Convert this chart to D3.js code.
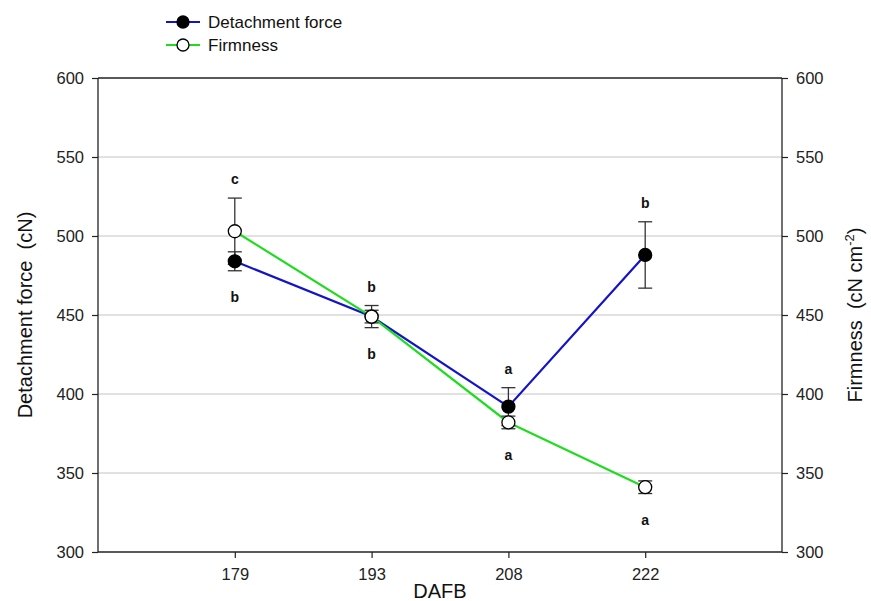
<!DOCTYPE html>
<html>
<head>
<meta charset="utf-8">
<script src="https://cdn.jsdelivr.net/npm/d3@7"></script>
<style>
  body { margin: 0; background: #fff; }
  text { font-family: "Liberation Sans", Arial, sans-serif; }
</style>
</head>
<body>
<script>
// data
const dafb = ['179', '193', '208', '222'];
const detachment = [484, 449, 392, 488];
const detachmentErr = [6, 4, 12, 21];
const detachmentLetters = ['b', 'b', 'a', 'b'];
const firmness = [503, 449, 382, 341];
const firmnessErr = [21, 7, 4, 4];
const firmnessLetters = ['c', 'b', 'a', 'a'];
const yTicks = [300, 350, 400, 450, 500, 550, 600];

const W = 871, H = 601;
const mLeft = 98, mRight = 782, mTop = 78, mBottom = 552;

const svg = d3.select('body').append('svg')
  .attr('width', W).attr('height', H);

const x = d3.scalePoint().domain(dafb).range([mLeft, mRight]).padding(1);
const y = d3.scaleLinear().domain([300, 600]).range([mBottom, mTop]);
const y2 = d3.scaleLinear().domain([300, 600]).range([mBottom, mTop]);

// grid
svg.append('g').selectAll('line')
  .data(yTicks.filter(d => d > 300 && d < 600))
  .join('line')
  .attr('x1', mLeft).attr('x2', mRight)
  .attr('y1', d => y(d)).attr('y2', d => y(d))
  .style('stroke', '#c4c4c4').style('stroke-width', 1);

// frame top
svg.append('line').attr('x1', mLeft).attr('x2', mRight)
  .attr('y1', mTop).attr('y2', mTop)
  .style('stroke', '#222').style('stroke-width', 1.3);

const axL = svg.append('g').attr('transform', `translate(${mLeft},0)`)
  .call(d3.axisLeft(y).tickValues(yTicks).tickSize(6).tickPadding(8));
const axR = svg.append('g').attr('transform', `translate(${mRight},0)`)
  .call(d3.axisRight(y2).tickValues(yTicks).tickSize(6).tickPadding(8));
const axB = svg.append('g').attr('transform', `translate(0,${mBottom})`)
  .call(d3.axisBottom(x).tickSize(6).tickPadding(10));
[axL, axR, axB].forEach(g => {
  g.select('.domain').style('stroke', '#222').style('stroke-width', 1.3);
  g.selectAll('.tick line').style('stroke', '#222').style('stroke-width', 1.2);
  g.selectAll('.tick text').style('font-size', '16.5px').style('fill', '#222');
});
// straight domains without outer ticks
axL.select('.domain').attr('d', `M0,${mTop}V${mBottom}`);
axR.select('.domain').attr('d', `M0,${mTop}V${mBottom}`);
axB.select('.domain').attr('d', `M${mLeft},0H${mRight}`);

// axis titles
svg.append('text').attr('transform', `translate(32,${(mTop + mBottom) / 2}) rotate(-90)`)
  .attr('text-anchor', 'middle').style('font-size', '20px').style('fill', '#111')
  .style('white-space', 'pre').text('Detachment force  (cN)');
const rt = svg.append('text').attr('transform', `translate(862,${(mTop + mBottom) / 2}) rotate(-90)`)
  .attr('text-anchor', 'middle').style('font-size', '20px').style('fill', '#111')
  .style('white-space', 'pre');
rt.append('tspan').text('Firmness  (cN cm');
rt.append('tspan').attr('dy', -8).style('font-size', '13px').text('-2');
rt.append('tspan').attr('dy', 8).text(')');
svg.append('text').attr('x', 440).attr('y', 598)
  .attr('text-anchor', 'middle').style('font-size', '20px').style('fill', '#111')
  .text('DAFB');

const blue = '#1313c9', green = '#1edd1e';
const series = [
  { vals: detachment, err: detachmentErr, letters: detachmentLetters, color: blue, fill: '#000', other: firmness, win: false },
  { vals: firmness, err: firmnessErr, letters: firmnessLetters, color: green, fill: '#fff', other: detachment, win: true }
];

const line = d3.line().x((d, i) => x(dafb[i])).y(d => y(d));
series.forEach(s => {
  svg.append('path').datum(s.vals).attr('d', line)
    .style('fill', 'none').style('stroke', s.color).style('stroke-width', 2.2);
});

// error bars
series.forEach(s => {
  const g = svg.append('g').style('stroke', '#333').style('stroke-width', 1.3);
  s.vals.forEach((v, i) => {
    const cx = x(dafb[i]);
    g.append('line').attr('x1', cx).attr('x2', cx)
      .attr('y1', y(v - s.err[i])).attr('y2', y(v + s.err[i]));
    [v - s.err[i], v + s.err[i]].forEach(e => {
      g.append('line').attr('x1', cx - 7).attr('x2', cx + 7)
        .attr('y1', y(e)).attr('y2', y(e));
    });
  });
});

// markers
series.forEach(s => {
  svg.append('g').selectAll('circle').data(s.vals).join('circle')
    .attr('cx', (d, i) => x(dafb[i])).attr('cy', d => y(d)).attr('r', 6.5)
    .style('fill', s.fill).style('stroke', '#000').style('stroke-width', 1.3);
});

// significance letters: the higher series above, the lower below
series.forEach(s => {
  s.vals.forEach((v, i) => {
    const above = v > s.other[i] || (v === s.other[i] && s.win);
    const hi = Math.max(detachment[i] + detachmentErr[i], firmness[i] + firmnessErr[i]);
    const lo = Math.min(detachment[i] - detachmentErr[i], firmness[i] - firmnessErr[i]);
    svg.append('text').attr('x', x(dafb[i]))
      .attr('y', above ? y(hi) - 14 : y(lo) + 31)
      .attr('text-anchor', 'middle').style('font-size', '14px').style('font-weight', 'bold')
      .style('fill', '#111').text(s.letters[i]);
  });
});

// legend
const legend = [
  { name: 'Detachment force', color: blue, fill: '#000' },
  { name: 'Firmness', color: green, fill: '#fff' }
];
const lg = svg.append('g').attr('transform', 'translate(166,22)');
legend.forEach((d, i) => {
  const row = lg.append('g').attr('transform', `translate(0,${i * 23})`);
  row.append('line').attr('x1', 0).attr('x2', 34).style('stroke', d.color).style('stroke-width', 2.2);
  row.append('circle').attr('cx', 17).attr('r', 6).style('fill', d.fill).style('stroke', '#000').style('stroke-width', 1.3);
  row.append('text').attr('x', 42).attr('y', 6).style('font-size', '17px').style('fill', '#111').text(d.name);
});
</script>
</body>
</html>
